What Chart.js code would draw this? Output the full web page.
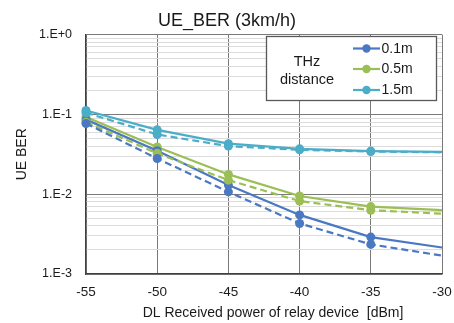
<!DOCTYPE html>
<html>
<head>
<meta charset="utf-8">
<script src="https://cdn.jsdelivr.net/npm/chart.js@4"></script>
<style>
html,body{margin:0;padding:0;background:#fff;}
#wrap{width:454px;height:323px;}
</style>
</head>
<body>
<div id="wrap"><canvas id="c" width="454" height="323"></canvas></div>
<script>
const powerDbm = [-55, -50, -45, -40, -35, -30];
const xTickLabels = ['-55', '-50', '-45', '-40', '-35', '-30'];
const yTickLabels = {1: '1.E+0', 0.1: '1.E-1', 0.01: '1.E-2', 0.001: '1.E-3'};
const seriesNames = ['0.1m', '0.5m', '1.5m'];
const ber01Solid = [0.086, 0.035, 0.013, 0.0055, 0.0029, 0.00215];
const ber05Solid = [0.093, 0.039, 0.0177, 0.0095, 0.0070, 0.0063];
const ber15Solid = [0.112, 0.064, 0.043, 0.037, 0.0347, 0.034];
const ber01Dashed = [0.077, 0.028, 0.0107, 0.0043, 0.00235, 0.0017];
const ber05Dashed = [0.080, 0.0325, 0.015, 0.0082, 0.0063, 0.0057];
const ber15Dashed = [0.105, 0.056, 0.040, 0.036, 0.0342, 0.0335];
const legendTitle = ['THz', 'distance'];
const xAxisTitle = 'DL Received power of relay device  [dBm]';

const colors = ['#4a78c2', '#9bbf55', '#4badc8'];
const FONT = 'Arial, "Liberation Sans", sans-serif';
const radii = [4.5, 4.5, 4.5, 4.5, 4.5, 0];

function mk(label, data, color, dashed) {
  return {
    label: label,
    data: powerDbm.map((x, i) => ({x: x, y: data[i]})),
    borderColor: color,
    backgroundColor: color,
    borderWidth: 2.2,
    borderDash: dashed ? [7, 4] : [],
    pointRadius: radii,
    pointHoverRadius: radii,
    pointBorderWidth: 0,
    pointBackgroundColor: color,
    tension: 0,
    clip: false
  };
}

const datasets = [
  mk(seriesNames[0] + ' dashed', ber01Dashed, colors[0], true),
  mk(seriesNames[1] + ' dashed', ber05Dashed, colors[1], true),
  mk(seriesNames[2] + ' dashed', ber15Dashed, colors[2], true),
  mk(seriesNames[0], ber01Solid, colors[0], false),
  mk(seriesNames[1], ber05Solid, colors[1], false),
  mk(seriesNames[2], ber15Solid, colors[2], false)
];

const legendPlugin = {
  id: 'boxLegend',
  afterDraw(chart) {
    const ctx = chart.ctx;
    ctx.save();
    ctx.fillStyle = '#1a1a1a';
    ctx.font = '14px ' + FONT;
    ctx.textAlign = 'center';
    ctx.textBaseline = 'middle';
    ctx.fillText(xAxisTitle, 273, 313);
    const bx = 266.5, by = 36.5, bw = 170, bh = 64;
    ctx.fillStyle = '#ffffff';
    ctx.fillRect(bx, by, bw, bh);
    ctx.strokeStyle = '#595959';
    ctx.lineWidth = 1.3;
    ctx.strokeRect(bx, by, bw, bh);
    ctx.fillStyle = '#1a1a1a';
    ctx.font = '14.5px ' + FONT;
    ctx.textAlign = 'center';
    ctx.fillText(legendTitle[0], 307, 62);
    ctx.fillText(legendTitle[1], 307, 80);
    const rows = [48.5, 69, 90];
    seriesNames.forEach((n, i) => {
      const y = rows[i];
      ctx.strokeStyle = colors[i];
      ctx.lineWidth = 2.2;
      ctx.beginPath();
      ctx.moveTo(353, y);
      ctx.lineTo(380, y);
      ctx.stroke();
      ctx.fillStyle = colors[i];
      ctx.beginPath();
      ctx.arc(366.5, y, 4.2, 0, Math.PI * 2);
      ctx.fill();
      ctx.fillStyle = '#1a1a1a';
      ctx.font = '14px ' + FONT;
      ctx.textAlign = 'left';
      ctx.fillText(n, 381.5, y + 0.5);
    });
    ctx.restore();
  }
};

new Chart(document.getElementById('c'), {
  type: 'line',
  data: {datasets: datasets},
  plugins: [legendPlugin],
  options: {
    responsive: false,
    devicePixelRatio: 1,
    animation: false,
    events: [],
    layout: {padding: {left: 0, right: 0, top: 0, bottom: 0}},
    plugins: {
      legend: {display: false},
      tooltip: {enabled: false},
      title: {
        display: true,
        text: 'UE_BER (3km/h)',
        color: '#1a1a1a',
        font: {family: FONT, size: 18, weight: 'normal'},
        padding: {top: 10, bottom: 3}
      }
    },
    scales: {
      x: {
        type: 'linear',
        min: -55,
        max: -30,
        afterBuildTicks: (s) => { s.ticks = powerDbm.map(v => ({value: v})); },
        afterFit: (s) => { s.height = 49; s.paddingRight = 12; s.paddingLeft = 0; },
        ticks: {
          callback: (v) => xTickLabels[powerDbm.indexOf(v)],
          color: '#1a1a1a',
          font: {family: FONT, size: 13.5},
          padding: 10,
          maxRotation: 0,
          autoSkip: false
        },
        grid: {color: '#7a7a7a', lineWidth: 1, drawTicks: false},
        border: {color: '#404040', width: 1.3},
        title: {display: false}
      },
      y: {
        type: 'logarithmic',
        min: 0.001,
        max: 1,
        afterBuildTicks: (s) => {
          const t = [];
          for (let e = -3; e < 0; e++) {
            for (let m = 1; m <= 9; m++) t.push({value: m * Math.pow(10, e)});
          }
          t.push({value: 1});
          s.ticks = t;
        },
        afterFit: (s) => { s.width = 86; s.paddingTop = 0; s.paddingBottom = 0; },
        ticks: {
          callback: (v) => {
            const k = Object.keys(yTickLabels).find(key => Math.abs(parseFloat(key) - v) / v < 1e-6);
            return k !== undefined ? yTickLabels[k] : '';
          },
          color: '#1a1a1a',
          font: {family: FONT, size: 12.5},
          padding: 14,
          autoSkip: false
        },
        grid: {
          drawTicks: false,
          lineWidth: 1,
          color: (ctx) => {
            const v = ctx.tick ? ctx.tick.value : 0;
            const l = Math.log10(v);
            return Math.abs(l - Math.round(l)) < 1e-6 ? '#7a7a7a' : '#dcdcdc';
          }
        },
        border: {color: '#404040', width: 1.3},
        title: {
          display: true,
          text: 'UE BER',
          color: '#1a1a1a',
          font: {family: FONT, size: 14},
          padding: {top: 14, bottom: 0}
        }
      }
    }
  }
});
</script>
</body>
</html>
